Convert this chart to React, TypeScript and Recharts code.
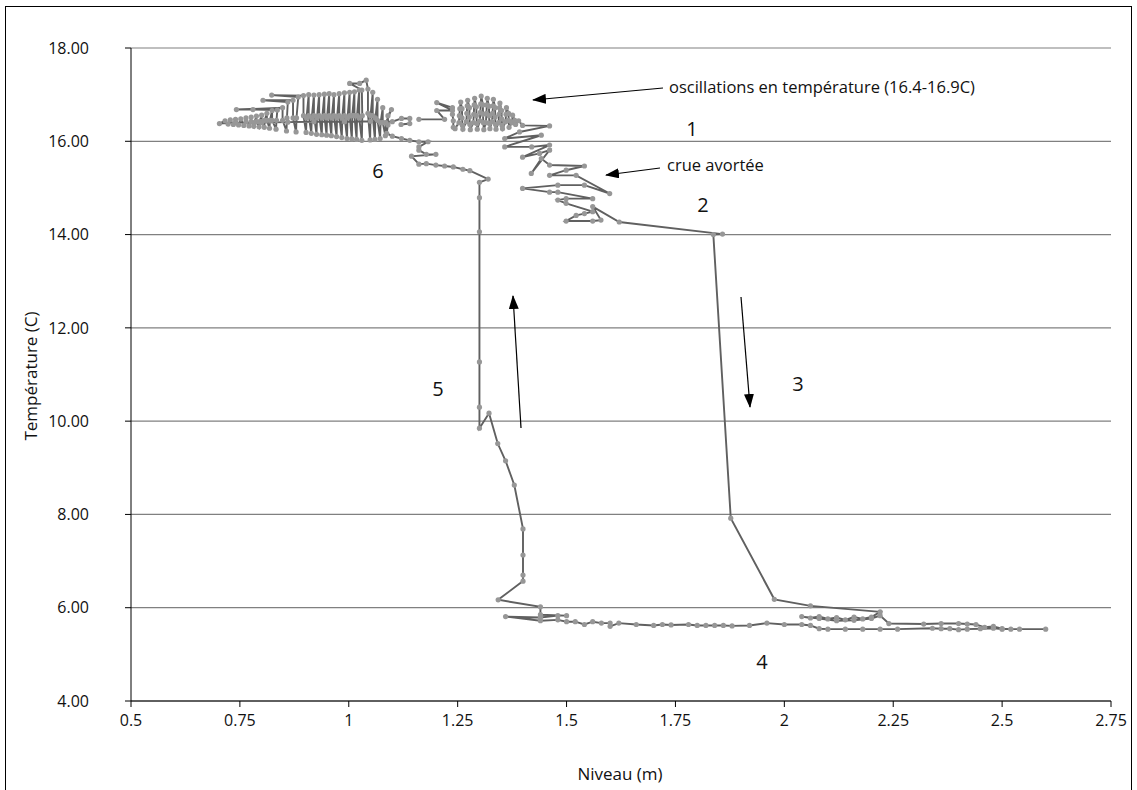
import React from "react";
import { ScatterChart, Scatter, XAxis, YAxis, CartesianGrid } from "recharts";

// [niveau (m), température (C)], in time order
const phase1: [number, number][] = [
  [1.161, 16.47], [1.22, 16.47], [1.202, 16.66], [1.238, 16.66], [1.202, 16.83],
  [1.238, 16.72], [1.238, 16.58], [1.24, 16.44], [1.24, 16.3], [1.244, 16.27],
  [1.253, 16.4], [1.254, 16.55], [1.255, 16.7], [1.257, 16.84],
  [1.26, 16.7], [1.26, 16.5], [1.261, 16.34], [1.262, 16.26],
  [1.27, 16.42], [1.271, 16.6], [1.272, 16.76], [1.273, 16.88],
  [1.277, 16.72], [1.277, 16.52], [1.278, 16.36], [1.279, 16.25],
  [1.286, 16.4], [1.287, 16.58], [1.288, 16.78], [1.289, 16.92],
  [1.293, 16.74], [1.293, 16.55], [1.294, 16.38], [1.295, 16.26],
  [1.301, 16.44], [1.302, 16.62], [1.303, 16.8], [1.304, 16.97],
  [1.308, 16.78], [1.308, 16.58], [1.309, 16.4], [1.31, 16.25],
  [1.315, 16.4], [1.316, 16.6], [1.317, 16.78], [1.318, 16.92],
  [1.322, 16.75], [1.322, 16.55], [1.323, 16.38], [1.324, 16.27],
  [1.329, 16.42], [1.33, 16.6], [1.331, 16.76], [1.332, 16.9],
  [1.336, 16.72], [1.336, 16.52], [1.337, 16.36], [1.338, 16.26],
  [1.344, 16.4], [1.345, 16.58], [1.346, 16.72], [1.347, 16.82],
  [1.351, 16.66], [1.351, 16.48], [1.352, 16.34], [1.353, 16.27],
  [1.36, 16.42], [1.361, 16.58], [1.362, 16.72],
  [1.367, 16.6], [1.367, 16.45], [1.368, 16.3],
  [1.375, 16.4], [1.376, 16.56], [1.381, 16.45], [1.383, 16.36], [1.39, 16.44],
];

const phase2: [number, number][] = [
  [1.399, 16.34], [1.461, 16.33], [1.392, 16.2], [1.358, 16.06], [1.442, 16.13],
  [1.358, 15.88], [1.42, 15.88], [1.461, 15.92], [1.399, 15.66], [1.438, 15.74],
  [1.461, 15.81], [1.419, 15.31], [1.442, 15.63], [1.461, 15.49], [1.541, 15.47],
  [1.499, 15.38], [1.461, 15.27], [1.522, 15.27], [1.599, 14.88], [1.541, 15.06],
  [1.48, 15.06], [1.399, 14.99], [1.461, 14.91], [1.48, 14.91], [1.56, 14.77],
  [1.499, 14.77], [1.48, 14.74], [1.499, 14.67], [1.56, 14.49], [1.541, 14.45],
  [1.522, 14.41], [1.499, 14.29], [1.56, 14.29], [1.579, 14.31], [1.56, 14.6],
  [1.621, 14.27],
];

const phase3: [number, number][] = [
  [1.858, 14.01], [1.837, 14.0], [1.877, 7.92], [1.977, 6.18], [2.06, 6.04],
  [2.22, 5.91],
];

const phase4: [number, number][] = [
  [2.2, 5.8], [2.18, 5.76], [2.16, 5.8], [2.14, 5.74], [2.12, 5.79],
  [2.1, 5.76], [2.08, 5.81], [2.06, 5.78], [2.04, 5.81], [2.08, 5.77],
  [2.12, 5.72], [2.16, 5.73], [2.2, 5.77], [2.22, 5.83], [2.24, 5.66],
  [2.32, 5.65], [2.36, 5.66], [2.4, 5.66], [2.42, 5.65], [2.44, 5.64],
  [2.46, 5.58], [2.48, 5.6], [2.5, 5.55], [2.52, 5.54], [2.54, 5.54],
  [2.6, 5.54], [2.5, 5.54], [2.48, 5.56], [2.45, 5.55], [2.42, 5.54],
  [2.4, 5.53], [2.38, 5.55], [2.36, 5.55], [2.34, 5.56], [2.26, 5.54],
  [2.22, 5.54], [2.18, 5.54], [2.14, 5.54], [2.1, 5.54], [2.08, 5.55],
  [2.06, 5.62], [2.04, 5.64], [2.0, 5.64], [1.96, 5.67], [1.92, 5.62],
  [1.88, 5.61], [1.86, 5.62], [1.84, 5.62], [1.82, 5.62], [1.8, 5.62],
  [1.78, 5.64], [1.74, 5.63], [1.72, 5.64], [1.7, 5.62], [1.66, 5.64],
  [1.62, 5.67], [1.6, 5.6], [1.6, 5.67], [1.58, 5.67], [1.56, 5.7],
  [1.541, 5.64], [1.52, 5.7], [1.5, 5.7], [1.48, 5.74], [1.44, 5.72],
  [1.36, 5.81], [1.44, 5.79], [1.48, 5.83], [1.5, 5.83], [1.44, 5.85],
  [1.44, 6.02],
];

const phase5: [number, number][] = [
  [1.343, 6.17], [1.4, 6.57], [1.4, 6.7], [1.4, 7.13], [1.4, 7.69],
  [1.38, 8.63], [1.36, 9.15], [1.342, 9.52], [1.322, 10.17], [1.3, 9.85],
  [1.3, 10.3], [1.3, 11.27], [1.3, 14.06], [1.3, 14.79], [1.3, 15.12],
  [1.32, 15.19],
];

const phase6: [number, number][] = [
  [1.278, 15.37], [1.262, 15.4], [1.24, 15.45], [1.22, 15.47], [1.2, 15.49],
  [1.178, 15.52], [1.161, 15.51], [1.144, 15.68], [1.2, 15.72], [1.178, 15.72],
  [1.161, 15.81], [1.161, 15.88], [1.182, 15.99], [1.161, 15.99], [1.14, 16.02],
  [1.121, 16.06], [1.1, 16.11], [1.087, 16.17],
  [1.09, 16.35], [1.09, 16.55], [1.098, 16.68], [1.085, 16.4], [1.084, 16.12],
  [1.078, 16.4], [1.078, 16.72], [1.073, 16.4], [1.072, 16.06],
  [1.066, 16.45], [1.066, 16.9], [1.061, 16.5], [1.06, 16.04],
  [1.055, 16.55], [1.055, 17.05], [1.05, 16.55], [1.049, 16.03],
  [1.044, 16.6], [1.044, 17.12], [1.04, 17.31], [1.025, 17.24], [1.002, 17.24],
  [1.03, 17.1], [1.031, 16.55], [1.03, 16.02],
  [1.024, 16.5], [1.024, 17.1], [1.019, 16.55], [1.018, 16.04],
  [1.013, 16.55], [1.013, 17.06], [1.008, 16.55], [1.007, 16.05],
  [1.002, 16.55], [1.002, 17.05], [0.997, 16.5], [0.996, 16.06],
  [0.99, 16.55], [0.99, 17.04], [0.985, 16.5], [0.984, 16.08],
  [0.978, 16.55], [0.978, 17.02], [0.973, 16.5], [0.972, 16.1],
  [0.966, 16.55], [0.966, 17.0], [0.961, 16.5], [0.96, 16.12],
  [0.955, 16.55], [0.955, 17.02], [0.95, 16.5], [0.949, 16.13],
  [0.944, 16.55], [0.944, 17.01], [0.939, 16.5], [0.938, 16.14],
  [0.932, 16.55], [0.932, 17.0], [0.927, 16.5], [0.926, 16.15],
  [0.92, 16.55], [0.92, 16.99], [0.915, 16.5], [0.914, 16.17],
  [0.908, 16.55], [0.908, 17.0], [0.903, 16.5], [0.902, 16.19],
  [0.896, 16.55], [0.896, 16.98], [0.823, 16.99], [0.884, 16.95], [0.88, 16.5], [0.879, 16.2],
  [0.872, 16.5], [0.872, 16.88], [0.803, 16.88], [0.86, 16.84], [0.858, 16.5], [0.857, 16.22],
  [0.848, 16.45], [0.848, 16.72], [0.742, 16.68], [0.78, 16.68], [0.836, 16.67],
  [0.834, 16.45], [0.833, 16.26],
  [0.824, 16.45], [0.824, 16.66], [0.819, 16.45], [0.818, 16.28],
  [0.812, 16.45], [0.812, 16.6], [0.807, 16.45], [0.806, 16.3],
  [0.8, 16.42], [0.8, 16.56], [0.795, 16.42], [0.794, 16.31],
  [0.788, 16.42], [0.788, 16.54], [0.783, 16.4], [0.782, 16.32],
  [0.776, 16.42], [0.776, 16.52], [0.771, 16.33],
  [0.764, 16.42], [0.764, 16.5], [0.759, 16.34],
  [0.752, 16.48], [0.747, 16.35], [0.74, 16.47], [0.735, 16.36],
  [0.728, 16.46], [0.723, 16.37], [0.716, 16.44], [0.703, 16.38],
  [0.74, 16.4], [0.8, 16.4], [0.86, 16.41], [0.92, 16.42], [0.99, 16.42],
  [1.05, 16.43], [1.1, 16.42], [1.121, 16.49], [1.14, 16.49], [1.14, 16.38],
  [1.12, 16.36],
];

const niveauTicks = [0.5, 0.75, 1, 1.25, 1.5, 1.75, 2, 2.25, 2.5, 2.75];
const tempTicks = [4, 6, 8, 10, 12, 14, 16, 18];

const path = [...phase1, ...phase2, ...phase3, ...phase4, ...phase5, ...phase6].map(
  ([niveau, temp]) => ({ niveau, temp })
);

const FONT = "'Open Sans', 'Noto Sans', sans-serif";

const Dot = (props: any) => (
  <circle cx={props.cx} cy={props.cy} r={2.6} fill="#979797" />
);

export default function App() {
  return (
    <div
      style={{
        position: "absolute",
        left: 0,
        top: 0,
        width: 1137,
        height: 790,
        background: "#fff",
        fontFamily: FONT,
      }}
    >
      <ScatterChart
        width={1137}
        height={790}
        margin={{ top: 48, right: 26, bottom: 49, left: 31 }}
      >
        <CartesianGrid vertical={false} stroke="#808080" strokeWidth={1.2} />
        <XAxis
          type="number"
          dataKey="niveau"
          domain={[0.5, 2.75]}
          ticks={niveauTicks}
          height={40}
          axisLine={{ stroke: "#000" }}
          tickLine={{ stroke: "#000" }}
          tickSize={6}
          tickMargin={8}
          tick={{ fill: "#111", fontSize: 16, fontFamily: FONT }}
        />
        <YAxis
          type="number"
          dataKey="temp"
          domain={[4, 18]}
          ticks={tempTicks}
          width={100}
          axisLine={{ stroke: "#000" }}
          tickLine={{ stroke: "#000" }}
          tickSize={6}
          tickMargin={36}
          tickFormatter={(v: number) => v.toFixed(2)}
          tick={{ fill: "#111", fontSize: 16, fontFamily: FONT }}
        />
        <Scatter
          data={path}
          line={{ stroke: "#606060", strokeWidth: 1.9 }}
          lineType="joint"
          shape={Dot}
          isAnimationActive={false}
        />
      </ScatterChart>

      <svg
        width={1137}
        height={790}
        style={{ position: "absolute", left: 0, top: 0, pointerEvents: "none" }}
      >
        <defs>
          <marker
            id="head"
            markerUnits="userSpaceOnUse"
            markerWidth={14}
            markerHeight={10}
            refX={13}
            refY={5}
            orient="auto"
          >
            <path d="M0,0 L14,5 L0,10 Z" fill="#000" />
          </marker>
        </defs>
        <rect x={5.5} y={6.5} width={1126} height={800} fill="none" stroke="#000" />
        <g stroke="#000" strokeWidth={1.2} markerEnd="url(#head)">
          <line x1={663} y1={88} x2={533} y2={100} />
          <line x1={660} y1={168} x2={606} y2={175} />
          <line x1={741} y1={297} x2={750} y2={407} />
          <line x1={521} y1={428} x2={513} y2={296} />
        </g>
        <g fontFamily={FONT} fill="#111" dominantBaseline="central">
          <text x={669} y={86} fontSize={16.5}>oscillations en température (16.4-16.9C)</text>
          <text x={667} y={164} fontSize={16.5}>crue avortée</text>
          <g fontSize={20} textAnchor="middle">
            <text x={692} y={128}>1</text>
            <text x={703} y={204}>2</text>
            <text x={798} y={383}>3</text>
            <text x={762} y={661}>4</text>
            <text x={438} y={388}>5</text>
            <text x={378} y={170}>6</text>
          </g>
          <text x={620} y={773} fontSize={17} textAnchor="middle">Niveau (m)</text>
          <text
            x={30}
            y={376}
            fontSize={17}
            textAnchor="middle"
            transform="rotate(-90 30 376)"
          >
            Température (C)
          </text>
        </g>
      </svg>
    </div>
  );
}
